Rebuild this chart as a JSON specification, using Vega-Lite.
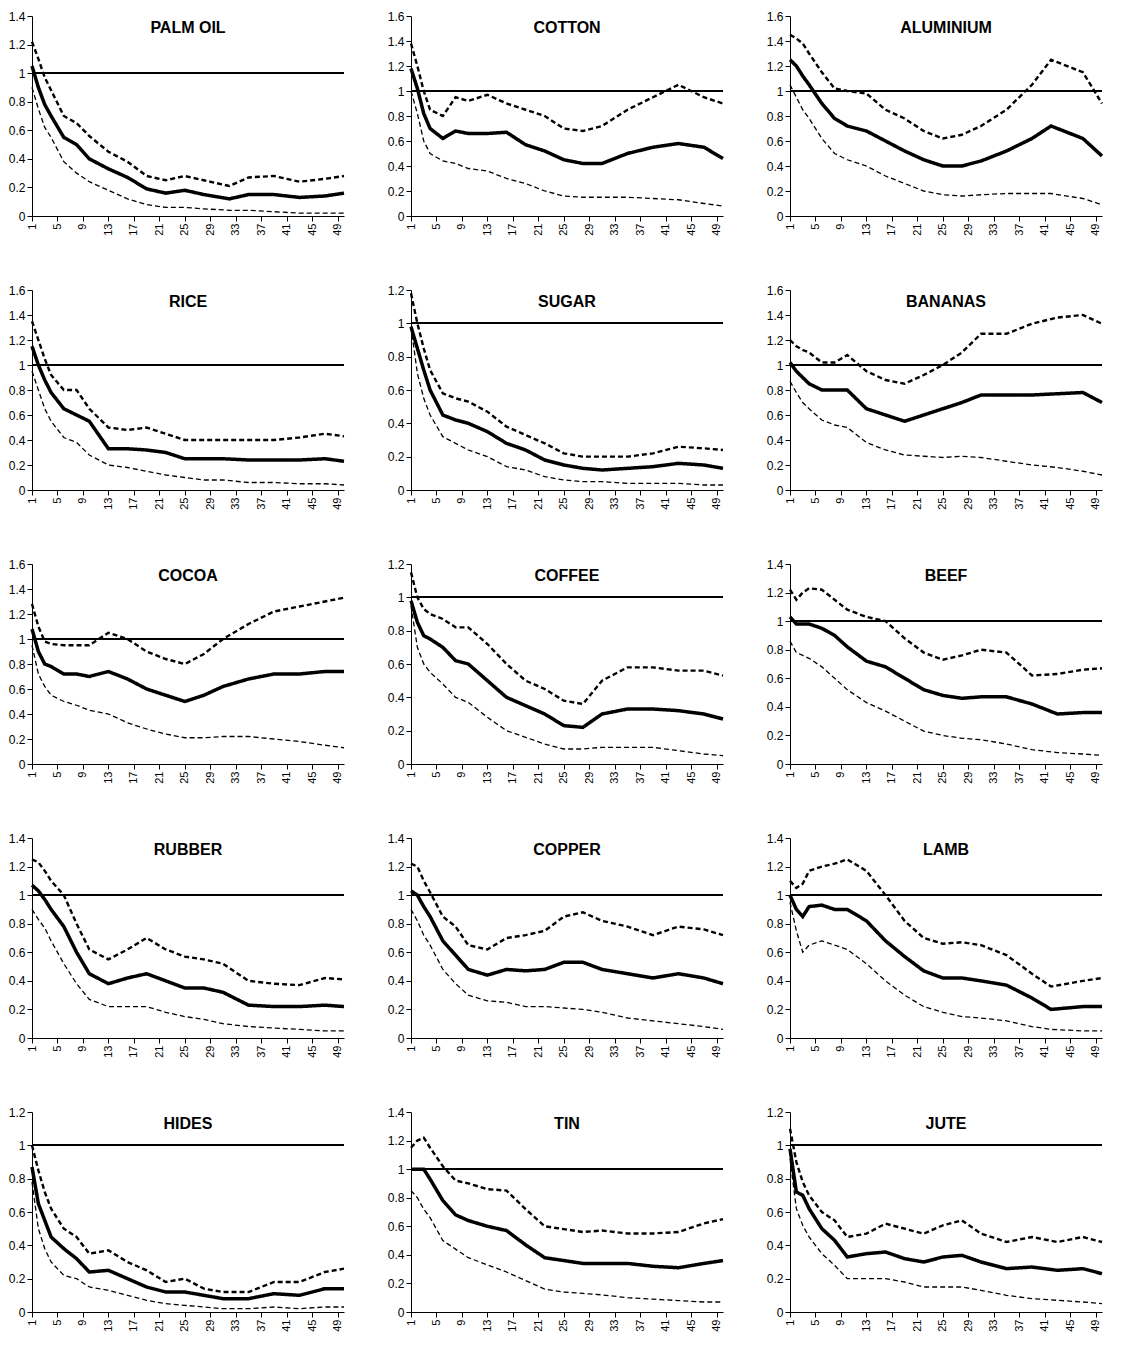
{
  "$schema": "https://vega.github.io/schema/vega-lite/v6.json",
  "background": "white",
  "padding": {"left": 8, "top": 10, "right": 5, "bottom": 5},
  "config": {
    "font": "Liberation Sans",
    "view": {"stroke": null},
    "axis": {"grid": false, "domainColor": "black", "tickColor": "black", "labelColor": "black", "labelFontSize": 12, "title": null},
    "axisX": {"labelOverlap": false, "labelFlush": false, "labelAngle": 270, "labelAlign": "right", "labelBaseline": "middle", "labelFontSize": 11}
  },
  "data": {"values": [
{"c":"PALM OIL","x":1,"m":1.05,"u":1.22,"l":0.9,"ymax":1.4},{"c":"PALM OIL","x":2,"m":0.9,"u":1.1,"l":0.75},{"c":"PALM OIL","x":3,"m":0.78,"u":0.97,"l":0.62},{"c":"PALM OIL","x":4,"m":0.7,"u":0.88,"l":0.55},{"c":"PALM OIL","x":6,"m":0.55,"u":0.7,"l":0.38},{"c":"PALM OIL","x":8,"m":0.5,"u":0.65,"l":0.3},{"c":"PALM OIL","x":10,"m":0.4,"u":0.56,"l":0.24},{"c":"PALM OIL","x":13,"m":0.33,"u":0.45,"l":0.18},{"c":"PALM OIL","x":16,"m":0.27,"u":0.38,"l":0.12},{"c":"PALM OIL","x":19,"m":0.19,"u":0.28,"l":0.08},{"c":"PALM OIL","x":22,"m":0.16,"u":0.25,"l":0.06},{"c":"PALM OIL","x":25,"m":0.18,"u":0.28,"l":0.06},{"c":"PALM OIL","x":28,"m":0.15,"u":0.25,"l":0.05},{"c":"PALM OIL","x":32,"m":0.12,"u":0.21,"l":0.04},{"c":"PALM OIL","x":35,"m":0.15,"u":0.27,"l":0.04},{"c":"PALM OIL","x":39,"m":0.15,"u":0.28,"l":0.03},{"c":"PALM OIL","x":43,"m":0.13,"u":0.24,"l":0.02},{"c":"PALM OIL","x":47,"m":0.14,"u":0.26,"l":0.02},{"c":"PALM OIL","x":50,"m":0.16,"u":0.28,"l":0.02},
{"c":"COTTON","x":1,"m":1.18,"u":1.38,"l":1.0,"ymax":1.6},{"c":"COTTON","x":2,"m":1.02,"u":1.2,"l":0.82},{"c":"COTTON","x":3,"m":0.82,"u":1.0,"l":0.6},{"c":"COTTON","x":4,"m":0.7,"u":0.85,"l":0.5},{"c":"COTTON","x":6,"m":0.62,"u":0.8,"l":0.44},{"c":"COTTON","x":8,"m":0.68,"u":0.95,"l":0.42},{"c":"COTTON","x":10,"m":0.66,"u":0.92,"l":0.38},{"c":"COTTON","x":13,"m":0.66,"u":0.97,"l":0.36},{"c":"COTTON","x":16,"m":0.67,"u":0.9,"l":0.3},{"c":"COTTON","x":19,"m":0.57,"u":0.85,"l":0.26},{"c":"COTTON","x":22,"m":0.52,"u":0.8,"l":0.2},{"c":"COTTON","x":25,"m":0.45,"u":0.7,"l":0.16},{"c":"COTTON","x":28,"m":0.42,"u":0.68,"l":0.15},{"c":"COTTON","x":31,"m":0.42,"u":0.72,"l":0.15},{"c":"COTTON","x":35,"m":0.5,"u":0.85,"l":0.15},{"c":"COTTON","x":39,"m":0.55,"u":0.95,"l":0.14},{"c":"COTTON","x":43,"m":0.58,"u":1.05,"l":0.13},{"c":"COTTON","x":47,"m":0.55,"u":0.95,"l":0.1},{"c":"COTTON","x":50,"m":0.46,"u":0.9,"l":0.08},
{"c":"ALUMINIUM","x":1,"m":1.25,"u":1.45,"l":1.05,"ymax":1.6},{"c":"ALUMINIUM","x":2,"m":1.2,"u":1.42,"l":0.95},{"c":"ALUMINIUM","x":3,"m":1.12,"u":1.38,"l":0.85},{"c":"ALUMINIUM","x":4,"m":1.05,"u":1.3,"l":0.78},{"c":"ALUMINIUM","x":6,"m":0.9,"u":1.15,"l":0.62},{"c":"ALUMINIUM","x":8,"m":0.78,"u":1.02,"l":0.5},{"c":"ALUMINIUM","x":10,"m":0.72,"u":1.0,"l":0.45},{"c":"ALUMINIUM","x":13,"m":0.68,"u":0.98,"l":0.4},{"c":"ALUMINIUM","x":16,"m":0.6,"u":0.85,"l":0.32},{"c":"ALUMINIUM","x":19,"m":0.52,"u":0.78,"l":0.26},{"c":"ALUMINIUM","x":22,"m":0.45,"u":0.68,"l":0.2},{"c":"ALUMINIUM","x":25,"m":0.4,"u":0.62,"l":0.17},{"c":"ALUMINIUM","x":28,"m":0.4,"u":0.65,"l":0.16},{"c":"ALUMINIUM","x":31,"m":0.44,"u":0.72,"l":0.17},{"c":"ALUMINIUM","x":35,"m":0.52,"u":0.85,"l":0.18},{"c":"ALUMINIUM","x":39,"m":0.62,"u":1.05,"l":0.18},{"c":"ALUMINIUM","x":42,"m":0.72,"u":1.25,"l":0.18},{"c":"ALUMINIUM","x":47,"m":0.62,"u":1.15,"l":0.14},{"c":"ALUMINIUM","x":50,"m":0.48,"u":0.9,"l":0.09},
{"c":"RICE","x":1,"m":1.15,"u":1.35,"l":0.95,"ymax":1.6},{"c":"RICE","x":2,"m":1.0,"u":1.2,"l":0.8},{"c":"RICE","x":3,"m":0.88,"u":1.05,"l":0.65},{"c":"RICE","x":4,"m":0.78,"u":0.92,"l":0.55},{"c":"RICE","x":6,"m":0.65,"u":0.8,"l":0.42},{"c":"RICE","x":8,"m":0.6,"u":0.8,"l":0.38},{"c":"RICE","x":10,"m":0.55,"u":0.65,"l":0.28},{"c":"RICE","x":13,"m":0.33,"u":0.5,"l":0.2},{"c":"RICE","x":16,"m":0.33,"u":0.48,"l":0.18},{"c":"RICE","x":19,"m":0.32,"u":0.5,"l":0.15},{"c":"RICE","x":22,"m":0.3,"u":0.45,"l":0.12},{"c":"RICE","x":25,"m":0.25,"u":0.4,"l":0.1},{"c":"RICE","x":28,"m":0.25,"u":0.4,"l":0.08},{"c":"RICE","x":31,"m":0.25,"u":0.4,"l":0.08},{"c":"RICE","x":35,"m":0.24,"u":0.4,"l":0.06},{"c":"RICE","x":39,"m":0.24,"u":0.4,"l":0.06},{"c":"RICE","x":43,"m":0.24,"u":0.42,"l":0.05},{"c":"RICE","x":47,"m":0.25,"u":0.45,"l":0.05},{"c":"RICE","x":50,"m":0.23,"u":0.43,"l":0.04},
{"c":"SUGAR","x":1,"m":0.98,"u":1.18,"l":0.98,"ymax":1.2},{"c":"SUGAR","x":2,"m":0.85,"u":1.0,"l":0.7},{"c":"SUGAR","x":3,"m":0.72,"u":0.85,"l":0.55},{"c":"SUGAR","x":4,"m":0.6,"u":0.72,"l":0.45},{"c":"SUGAR","x":6,"m":0.45,"u":0.58,"l":0.32},{"c":"SUGAR","x":8,"m":0.42,"u":0.55,"l":0.28},{"c":"SUGAR","x":10,"m":0.4,"u":0.53,"l":0.24},{"c":"SUGAR","x":13,"m":0.35,"u":0.47,"l":0.2},{"c":"SUGAR","x":16,"m":0.28,"u":0.38,"l":0.14},{"c":"SUGAR","x":19,"m":0.24,"u":0.33,"l":0.12},{"c":"SUGAR","x":22,"m":0.18,"u":0.28,"l":0.08},{"c":"SUGAR","x":25,"m":0.15,"u":0.22,"l":0.06},{"c":"SUGAR","x":28,"m":0.13,"u":0.2,"l":0.05},{"c":"SUGAR","x":31,"m":0.12,"u":0.2,"l":0.05},{"c":"SUGAR","x":35,"m":0.13,"u":0.2,"l":0.04},{"c":"SUGAR","x":39,"m":0.14,"u":0.22,"l":0.04},{"c":"SUGAR","x":43,"m":0.16,"u":0.26,"l":0.04},{"c":"SUGAR","x":47,"m":0.15,"u":0.25,"l":0.03},{"c":"SUGAR","x":50,"m":0.13,"u":0.24,"l":0.03},
{"c":"BANANAS","x":1,"m":1.02,"u":1.2,"l":0.87,"ymax":1.6},{"c":"BANANAS","x":2,"m":0.95,"u":1.15,"l":0.78},{"c":"BANANAS","x":3,"m":0.9,"u":1.12,"l":0.7},{"c":"BANANAS","x":4,"m":0.85,"u":1.1,"l":0.65},{"c":"BANANAS","x":6,"m":0.8,"u":1.02,"l":0.56},{"c":"BANANAS","x":8,"m":0.8,"u":1.02,"l":0.52},{"c":"BANANAS","x":10,"m":0.8,"u":1.08,"l":0.5},{"c":"BANANAS","x":13,"m":0.65,"u":0.95,"l":0.38},{"c":"BANANAS","x":16,"m":0.6,"u":0.88,"l":0.32},{"c":"BANANAS","x":19,"m":0.55,"u":0.85,"l":0.28},{"c":"BANANAS","x":22,"m":0.6,"u":0.92,"l":0.27},{"c":"BANANAS","x":25,"m":0.65,"u":1.0,"l":0.26},{"c":"BANANAS","x":28,"m":0.7,"u":1.1,"l":0.27},{"c":"BANANAS","x":31,"m":0.76,"u":1.25,"l":0.26},{"c":"BANANAS","x":35,"m":0.76,"u":1.25,"l":0.23},{"c":"BANANAS","x":39,"m":0.76,"u":1.33,"l":0.2},{"c":"BANANAS","x":43,"m":0.77,"u":1.38,"l":0.18},{"c":"BANANAS","x":47,"m":0.78,"u":1.4,"l":0.15},{"c":"BANANAS","x":50,"m":0.7,"u":1.33,"l":0.12},
{"c":"COCOA","x":1,"m":1.08,"u":1.28,"l":0.95,"ymax":1.6},{"c":"COCOA","x":2,"m":0.9,"u":1.1,"l":0.72},{"c":"COCOA","x":3,"m":0.8,"u":0.98,"l":0.62},{"c":"COCOA","x":4,"m":0.78,"u":0.96,"l":0.55},{"c":"COCOA","x":6,"m":0.72,"u":0.95,"l":0.5},{"c":"COCOA","x":8,"m":0.72,"u":0.95,"l":0.47},{"c":"COCOA","x":10,"m":0.7,"u":0.95,"l":0.43},{"c":"COCOA","x":13,"m":0.74,"u":1.05,"l":0.4},{"c":"COCOA","x":16,"m":0.68,"u":1.0,"l":0.33},{"c":"COCOA","x":19,"m":0.6,"u":0.9,"l":0.28},{"c":"COCOA","x":22,"m":0.55,"u":0.84,"l":0.24},{"c":"COCOA","x":25,"m":0.5,"u":0.8,"l":0.21},{"c":"COCOA","x":28,"m":0.55,"u":0.88,"l":0.21},{"c":"COCOA","x":31,"m":0.62,"u":1.0,"l":0.22},{"c":"COCOA","x":35,"m":0.68,"u":1.12,"l":0.22},{"c":"COCOA","x":39,"m":0.72,"u":1.22,"l":0.2},{"c":"COCOA","x":43,"m":0.72,"u":1.26,"l":0.18},{"c":"COCOA","x":47,"m":0.74,"u":1.3,"l":0.15},{"c":"COCOA","x":50,"m":0.74,"u":1.33,"l":0.13},
{"c":"COFFEE","x":1,"m":0.98,"u":1.15,"l":0.95,"ymax":1.2},{"c":"COFFEE","x":2,"m":0.85,"u":1.0,"l":0.7},{"c":"COFFEE","x":3,"m":0.77,"u":0.93,"l":0.6},{"c":"COFFEE","x":4,"m":0.75,"u":0.9,"l":0.55},{"c":"COFFEE","x":6,"m":0.7,"u":0.87,"l":0.48},{"c":"COFFEE","x":8,"m":0.62,"u":0.82,"l":0.4},{"c":"COFFEE","x":10,"m":0.6,"u":0.82,"l":0.37},{"c":"COFFEE","x":13,"m":0.5,"u":0.72,"l":0.28},{"c":"COFFEE","x":16,"m":0.4,"u":0.6,"l":0.2},{"c":"COFFEE","x":19,"m":0.35,"u":0.5,"l":0.16},{"c":"COFFEE","x":22,"m":0.3,"u":0.45,"l":0.12},{"c":"COFFEE","x":25,"m":0.23,"u":0.38,"l":0.09},{"c":"COFFEE","x":28,"m":0.22,"u":0.36,"l":0.09},{"c":"COFFEE","x":31,"m":0.3,"u":0.5,"l":0.1},{"c":"COFFEE","x":35,"m":0.33,"u":0.58,"l":0.1},{"c":"COFFEE","x":39,"m":0.33,"u":0.58,"l":0.1},{"c":"COFFEE","x":43,"m":0.32,"u":0.56,"l":0.08},{"c":"COFFEE","x":47,"m":0.3,"u":0.56,"l":0.06},{"c":"COFFEE","x":50,"m":0.27,"u":0.53,"l":0.05},
{"c":"BEEF","x":1,"m":1.03,"u":1.22,"l":0.86,"ymax":1.4},{"c":"BEEF","x":2,"m":0.98,"u":1.15,"l":0.78},{"c":"BEEF","x":3,"m":0.98,"u":1.2,"l":0.76},{"c":"BEEF","x":4,"m":0.98,"u":1.23,"l":0.74},{"c":"BEEF","x":6,"m":0.95,"u":1.22,"l":0.68},{"c":"BEEF","x":8,"m":0.9,"u":1.15,"l":0.6},{"c":"BEEF","x":10,"m":0.82,"u":1.08,"l":0.52},{"c":"BEEF","x":13,"m":0.72,"u":1.03,"l":0.43},{"c":"BEEF","x":16,"m":0.68,"u":1.0,"l":0.37},{"c":"BEEF","x":19,"m":0.6,"u":0.88,"l":0.3},{"c":"BEEF","x":22,"m":0.52,"u":0.78,"l":0.23},{"c":"BEEF","x":25,"m":0.48,"u":0.73,"l":0.2},{"c":"BEEF","x":28,"m":0.46,"u":0.76,"l":0.18},{"c":"BEEF","x":31,"m":0.47,"u":0.8,"l":0.17},{"c":"BEEF","x":35,"m":0.47,"u":0.78,"l":0.14},{"c":"BEEF","x":39,"m":0.42,"u":0.62,"l":0.1},{"c":"BEEF","x":43,"m":0.35,"u":0.63,"l":0.08},{"c":"BEEF","x":47,"m":0.36,"u":0.66,"l":0.07},{"c":"BEEF","x":50,"m":0.36,"u":0.67,"l":0.06},
{"c":"RUBBER","x":1,"m":1.07,"u":1.25,"l":0.9,"ymax":1.4},{"c":"RUBBER","x":2,"m":1.03,"u":1.23,"l":0.83},{"c":"RUBBER","x":3,"m":0.97,"u":1.17,"l":0.77},{"c":"RUBBER","x":4,"m":0.9,"u":1.1,"l":0.68},{"c":"RUBBER","x":6,"m":0.78,"u":1.0,"l":0.52},{"c":"RUBBER","x":8,"m":0.6,"u":0.8,"l":0.38},{"c":"RUBBER","x":10,"m":0.45,"u":0.62,"l":0.27},{"c":"RUBBER","x":13,"m":0.38,"u":0.55,"l":0.22},{"c":"RUBBER","x":16,"m":0.42,"u":0.62,"l":0.22},{"c":"RUBBER","x":19,"m":0.45,"u":0.7,"l":0.22},{"c":"RUBBER","x":22,"m":0.4,"u":0.62,"l":0.18},{"c":"RUBBER","x":25,"m":0.35,"u":0.57,"l":0.15},{"c":"RUBBER","x":28,"m":0.35,"u":0.55,"l":0.13},{"c":"RUBBER","x":31,"m":0.32,"u":0.52,"l":0.1},{"c":"RUBBER","x":35,"m":0.23,"u":0.4,"l":0.08},{"c":"RUBBER","x":39,"m":0.22,"u":0.38,"l":0.07},{"c":"RUBBER","x":43,"m":0.22,"u":0.37,"l":0.06},{"c":"RUBBER","x":47,"m":0.23,"u":0.42,"l":0.05},{"c":"RUBBER","x":50,"m":0.22,"u":0.41,"l":0.05},
{"c":"COPPER","x":1,"m":1.03,"u":1.22,"l":0.9,"ymax":1.4},{"c":"COPPER","x":2,"m":1.0,"u":1.2,"l":0.82},{"c":"COPPER","x":3,"m":0.92,"u":1.1,"l":0.72},{"c":"COPPER","x":4,"m":0.85,"u":1.02,"l":0.65},{"c":"COPPER","x":6,"m":0.68,"u":0.85,"l":0.48},{"c":"COPPER","x":8,"m":0.58,"u":0.78,"l":0.38},{"c":"COPPER","x":10,"m":0.48,"u":0.65,"l":0.3},{"c":"COPPER","x":13,"m":0.44,"u":0.62,"l":0.26},{"c":"COPPER","x":16,"m":0.48,"u":0.7,"l":0.25},{"c":"COPPER","x":19,"m":0.47,"u":0.72,"l":0.22},{"c":"COPPER","x":22,"m":0.48,"u":0.75,"l":0.22},{"c":"COPPER","x":25,"m":0.53,"u":0.85,"l":0.21},{"c":"COPPER","x":28,"m":0.53,"u":0.88,"l":0.2},{"c":"COPPER","x":31,"m":0.48,"u":0.82,"l":0.18},{"c":"COPPER","x":35,"m":0.45,"u":0.78,"l":0.14},{"c":"COPPER","x":39,"m":0.42,"u":0.72,"l":0.12},{"c":"COPPER","x":43,"m":0.45,"u":0.78,"l":0.1},{"c":"COPPER","x":47,"m":0.42,"u":0.76,"l":0.08},{"c":"COPPER","x":50,"m":0.38,"u":0.72,"l":0.06},
{"c":"LAMB","x":1,"m":1.0,"u":1.1,"l":0.95,"ymax":1.4},{"c":"LAMB","x":2,"m":0.9,"u":1.05,"l":0.75},{"c":"LAMB","x":3,"m":0.85,"u":1.08,"l":0.6},{"c":"LAMB","x":4,"m":0.92,"u":1.17,"l":0.65},{"c":"LAMB","x":6,"m":0.93,"u":1.2,"l":0.68},{"c":"LAMB","x":8,"m":0.9,"u":1.22,"l":0.65},{"c":"LAMB","x":10,"m":0.9,"u":1.25,"l":0.62},{"c":"LAMB","x":13,"m":0.82,"u":1.17,"l":0.52},{"c":"LAMB","x":16,"m":0.68,"u":1.0,"l":0.4},{"c":"LAMB","x":19,"m":0.57,"u":0.82,"l":0.3},{"c":"LAMB","x":22,"m":0.47,"u":0.7,"l":0.22},{"c":"LAMB","x":25,"m":0.42,"u":0.66,"l":0.18},{"c":"LAMB","x":28,"m":0.42,"u":0.67,"l":0.15},{"c":"LAMB","x":31,"m":0.4,"u":0.65,"l":0.14},{"c":"LAMB","x":35,"m":0.37,"u":0.58,"l":0.12},{"c":"LAMB","x":39,"m":0.28,"u":0.45,"l":0.08},{"c":"LAMB","x":42,"m":0.2,"u":0.36,"l":0.06},{"c":"LAMB","x":47,"m":0.22,"u":0.4,"l":0.05},{"c":"LAMB","x":50,"m":0.22,"u":0.42,"l":0.05},
{"c":"HIDES","x":1,"m":0.87,"u":1.0,"l":0.78,"ymax":1.2},{"c":"HIDES","x":2,"m":0.65,"u":0.85,"l":0.5},{"c":"HIDES","x":3,"m":0.55,"u":0.72,"l":0.38},{"c":"HIDES","x":4,"m":0.45,"u":0.62,"l":0.3},{"c":"HIDES","x":6,"m":0.38,"u":0.5,"l":0.22},{"c":"HIDES","x":8,"m":0.32,"u":0.45,"l":0.2},{"c":"HIDES","x":10,"m":0.24,"u":0.35,"l":0.15},{"c":"HIDES","x":13,"m":0.25,"u":0.37,"l":0.13},{"c":"HIDES","x":16,"m":0.2,"u":0.3,"l":0.1},{"c":"HIDES","x":19,"m":0.15,"u":0.25,"l":0.07},{"c":"HIDES","x":22,"m":0.12,"u":0.18,"l":0.05},{"c":"HIDES","x":25,"m":0.12,"u":0.2,"l":0.04},{"c":"HIDES","x":28,"m":0.1,"u":0.14,"l":0.03},{"c":"HIDES","x":31,"m":0.08,"u":0.12,"l":0.02},{"c":"HIDES","x":35,"m":0.08,"u":0.12,"l":0.02},{"c":"HIDES","x":39,"m":0.11,"u":0.18,"l":0.03},{"c":"HIDES","x":43,"m":0.1,"u":0.18,"l":0.02},{"c":"HIDES","x":47,"m":0.14,"u":0.24,"l":0.03},{"c":"HIDES","x":50,"m":0.14,"u":0.26,"l":0.03},
{"c":"TIN","x":1,"m":1.0,"u":1.15,"l":0.85,"ymax":1.4},{"c":"TIN","x":2,"m":1.0,"u":1.2,"l":0.8},{"c":"TIN","x":3,"m":1.0,"u":1.22,"l":0.72},{"c":"TIN","x":4,"m":0.93,"u":1.15,"l":0.66},{"c":"TIN","x":6,"m":0.78,"u":1.02,"l":0.5},{"c":"TIN","x":8,"m":0.68,"u":0.92,"l":0.44},{"c":"TIN","x":10,"m":0.64,"u":0.9,"l":0.38},{"c":"TIN","x":13,"m":0.6,"u":0.86,"l":0.33},{"c":"TIN","x":16,"m":0.57,"u":0.85,"l":0.28},{"c":"TIN","x":19,"m":0.47,"u":0.72,"l":0.22},{"c":"TIN","x":22,"m":0.38,"u":0.6,"l":0.16},{"c":"TIN","x":25,"m":0.36,"u":0.58,"l":0.14},{"c":"TIN","x":28,"m":0.34,"u":0.56,"l":0.13},{"c":"TIN","x":31,"m":0.34,"u":0.57,"l":0.12},{"c":"TIN","x":35,"m":0.34,"u":0.55,"l":0.1},{"c":"TIN","x":39,"m":0.32,"u":0.55,"l":0.09},{"c":"TIN","x":43,"m":0.31,"u":0.56,"l":0.08},{"c":"TIN","x":47,"m":0.34,"u":0.62,"l":0.07},{"c":"TIN","x":50,"m":0.36,"u":0.65,"l":0.07},
{"c":"JUTE","x":1,"m":0.98,"u":1.1,"l":0.92,"ymax":1.2},{"c":"JUTE","x":2,"m":0.72,"u":0.9,"l":0.62},{"c":"JUTE","x":3,"m":0.7,"u":0.78,"l":0.52},{"c":"JUTE","x":4,"m":0.62,"u":0.7,"l":0.45},{"c":"JUTE","x":6,"m":0.5,"u":0.6,"l":0.35},{"c":"JUTE","x":8,"m":0.43,"u":0.55,"l":0.28},{"c":"JUTE","x":10,"m":0.33,"u":0.45,"l":0.2},{"c":"JUTE","x":13,"m":0.35,"u":0.47,"l":0.2},{"c":"JUTE","x":16,"m":0.36,"u":0.53,"l":0.2},{"c":"JUTE","x":19,"m":0.32,"u":0.5,"l":0.18},{"c":"JUTE","x":22,"m":0.3,"u":0.47,"l":0.15},{"c":"JUTE","x":25,"m":0.33,"u":0.52,"l":0.15},{"c":"JUTE","x":28,"m":0.34,"u":0.55,"l":0.15},{"c":"JUTE","x":31,"m":0.3,"u":0.47,"l":0.13},{"c":"JUTE","x":35,"m":0.26,"u":0.42,"l":0.1},{"c":"JUTE","x":39,"m":0.27,"u":0.45,"l":0.08},{"c":"JUTE","x":43,"m":0.25,"u":0.42,"l":0.07},{"c":"JUTE","x":47,"m":0.26,"u":0.45,"l":0.06},{"c":"JUTE","x":50,"m":0.23,"u":0.42,"l":0.05}
  ]},
  "facet": {
    "field": "c",
    "type": "nominal",
    "sort": ["PALM OIL","COTTON","ALUMINIUM","RICE","SUGAR","BANANAS","COCOA","COFFEE","BEEF","RUBBER","COPPER","LAMB","HIDES","TIN","JUTE"],
    "header": {"title": null, "labelFontSize": 16, "labelFontWeight": "bold", "labelColor": "black", "labelPadding": -26}
  },
  "columns": 3,
  "spacing": {"row": 48, "column": 36},
  "resolve": {"scale": {"y": "independent"}, "axis": {"x": "independent", "y": "independent"}},
  "spec": {
    "width": 312,
    "height": 200,
    "encoding": {
      "x": {"field": "x", "type": "quantitative", "scale": {"domain": [1, 50], "nice": false},
        "axis": {"values": [1,5,9,13,17,21,25,29,33,37,41,45,49]}}
    },
    "layer": [
      {
        "transform": [{"fold": ["m", "u", "l"], "as": ["s", "v"]}],
        "mark": {"type": "line", "color": "black"},
        "encoding": {
          "y": {"field": "v", "type": "quantitative", "scale": {"zero": true, "nice": true},
            "axis": {"format": ".2~f", "tickCount": 8}},
          "detail": {"field": "s"},
          "strokeDash": {"field": "s", "type": "nominal", "scale": {"domain": ["m", "u", "l"], "range": [[1, 0], [5, 3], [5, 3]]}, "legend": null},
          "strokeWidth": {"field": "s", "type": "nominal", "scale": {"domain": ["m", "u", "l"], "range": [3.5, 1.3, 1.3]}, "legend": null}
        }
      },
      {
        "mark": {"type": "point", "opacity": 0},
        "encoding": {
          "y": {"field": "ymax", "type": "quantitative"}
        }
      },
      {
        "mark": {"type": "rule", "color": "black", "strokeWidth": 1.5},
        "encoding": {"x": null, "y": {"datum": 1}}
      }
    ]
  }
}
